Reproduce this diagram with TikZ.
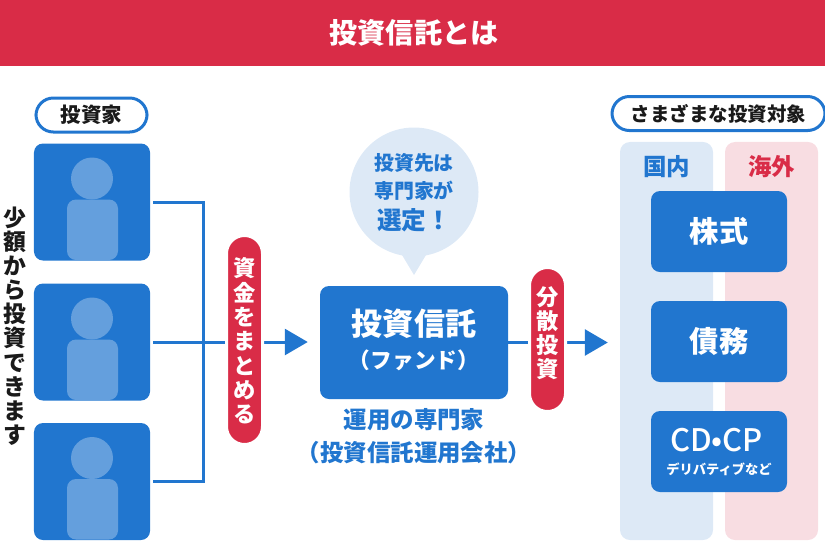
\documentclass[tikz,border=0pt]{standalone}
\usepackage{fontspec}
\setmainfont{Noto Sans CJK JP}
\newfontfamily\mediumfont{Noto Sans CJK JP Medium}
\usetikzlibrary{arrows.meta, positioning}
\definecolor{fundblue}{HTML}{2176CF}
\definecolor{paleblue}{HTML}{DDE9F6}
\definecolor{palered}{HTML}{F8DDE2}
\definecolor{personblue}{HTML}{649FDD}
\definecolor{bandred}{HTML}{D92C47}
\definecolor{inkblack}{HTML}{1A1A1A}
\newcommand{\pxfont}[2]{\bfseries\fontsize{#1}{#2}\selectfont}
\tikzset{
	bluebox/.style={fill=fundblue, rounded corners=0.27cm, text=white, inner sep=0pt, align=center},
	redpill/.style={fill=bandred, draw=white, line width=0.09cm, rounded corners=0.54cm, inner sep=0pt},
	pilltext/.style={text=white, align=center},
	headpill/.style={draw=fundblue, fill=white, line width=0.09cm, rounded corners=0.52cm, text=inkblack, inner sep=0pt},
	panel/.style={rounded corners=0.3cm, inner sep=0pt, minimum width=2.79cm, minimum height=11.94cm},
	flow/.style={draw=fundblue, line width=0.09cm},
	flowarrow/.style={flow, -{Triangle[length=0.69cm, width=0.78cm]}}
}

\begin{document}
\begin{tikzpicture}[x=0.03cm, y=-0.03cm]
	\useasboundingbox (0,0) rectangle (825,550);
	
	\fill[bandred] (0,0) rectangle (825,66);
	\node[text=white, font=\pxfont{24pt}{24pt}] (title) at (414,33) {投資信託とは};
	
	\node[headpill, minimum width=3.33cm, minimum height=1.02cm, font=\pxfont{17.5pt}{18pt}] (investors) at (91.5,115) {投資家};
	\node[headpill, minimum width=6.39cm, minimum height=1.02cm, font=\pxfont{16.6pt}{17pt}] (targets) at (718.5,113.5) {さまざまな投資対象};
	
	\node[align=center, text=inkblack, font=\pxfont{19.5pt}{20.6pt}] (small) at (14.5,326) {少\\額\\か\\ら\\投\\資\\で\\き\\ま\\す};
	
	% investors
	\foreach \i/\y in {1/202, 2/342, 3/481.5} {
		\node[fill=fundblue, rounded corners=0.27cm, inner sep=0pt, minimum width=3.48cm, minimum height=3.51cm] (inv\i) at (92,\y) {};
		\fill[personblue] (92,\y-23.5) circle (21);
		\fill[personblue, rounded corners=0.27cm] (67,\y+58) -- (67,\y-2.5) -- (118,\y-2.5) -- (118,\y+58) -- cycle;
	}
	
	% speech bubble
	\fill[paleblue] (402,255) -- (414,275) -- (426,255) -- cycle;
	\node[circle, fill=paleblue, minimum size=3.87cm, inner sep=0pt] (bubble) at (414,192) {};
	\node[align=center, text=fundblue, font=\pxfont{17pt}{24pt}] (bubbletop) at (414,177) {投資先は\\専門家が};
	\node[text=fundblue, font=\pxfont{21pt}{21pt}] (bubblelow) at (414,220) {選定！};
	
	\node[bluebox, minimum width=5.64cm, minimum height=3.39cm] (fund) at (414,342.5) {};
	\node[text=white, font=\pxfont{26.5pt}{26.5pt}] (fundname) at (414,324) {投資信託};
	\node[text=white, font=\pxfont{18.5pt}{18.5pt}] (fundsub) at (414,360) {（ファンド）};
	
	\node[align=center, text=fundblue, font=\pxfont{20pt}{28pt}] (manager) at (414,436) {運用の専門家\\（投資信託運用会社）};
	
	% target panels
	\node[panel, fill=paleblue] (domestic) at (666.5,341) {};
	\node[panel, fill=palered] (overseas) at (771.5,341) {};
	\node[text=fundblue, font=\pxfont{20pt}{20pt}] (domesticname) at (666.5,167) {国内};
	\node[text=bandred, font=\pxfont{20pt}{20pt}] (overseasname) at (771.5,167) {海外};
	
	\node[bluebox, minimum width=4.08cm, minimum height=2.43cm, font=\pxfont{25pt}{25pt}] (stock) at (719,231.5) {株式};
	\node[bluebox, minimum width=4.08cm, minimum height=2.43cm, font=\pxfont{25pt}{25pt}] (bond) at (719,341.5) {債務};
	\node[bluebox, minimum width=4.08cm, minimum height=2.43cm] (cdcp) at (719,451.5) {};
	\node[text=white, font=\mediumfont\fontsize{26.5pt}{26.5pt}\selectfont] (cdcpname) at (716.5,440) {CD•CP};
	\node[text=white, font=\pxfont{11.3pt}{11.3pt}] (cdcpsub) at (719,469) {デリバティブなど};
	
	% connectors
	\coordinate (bus) at (203,342);
	\draw[flow, shorten <=0.09cm] (inv1.east) -| (bus);
	\draw[flow, shorten <=0.09cm] (inv3.east) -| (bus);
	\draw[flowarrow, shorten <=0.09cm, shorten >=0.36cm] (inv2.east) -- (fund.west |- inv2.east);
	\draw[flowarrow, shorten >=0.36cm] (fund.east) -- (domestic.west |- fund.east);
	
	\node[redpill, minimum width=1.08cm, minimum height=6.27cm] (gather) at (244.5,340) {};
	\node[pilltext, font=\pxfont{19pt}{20.8pt}] (gathertext) at (244.5,341) {資\\金\\を\\ま\\と\\め\\る};
	\node[redpill, minimum width=1.08cm, minimum height=4.32cm] (spread) at (547.5,339.5) {};
	\node[pilltext, font=\pxfont{19pt}{20.4pt}] (spreadtext) at (547.5,333.5) {分\\散\\投\\資};
\end{tikzpicture}
\end{document}
